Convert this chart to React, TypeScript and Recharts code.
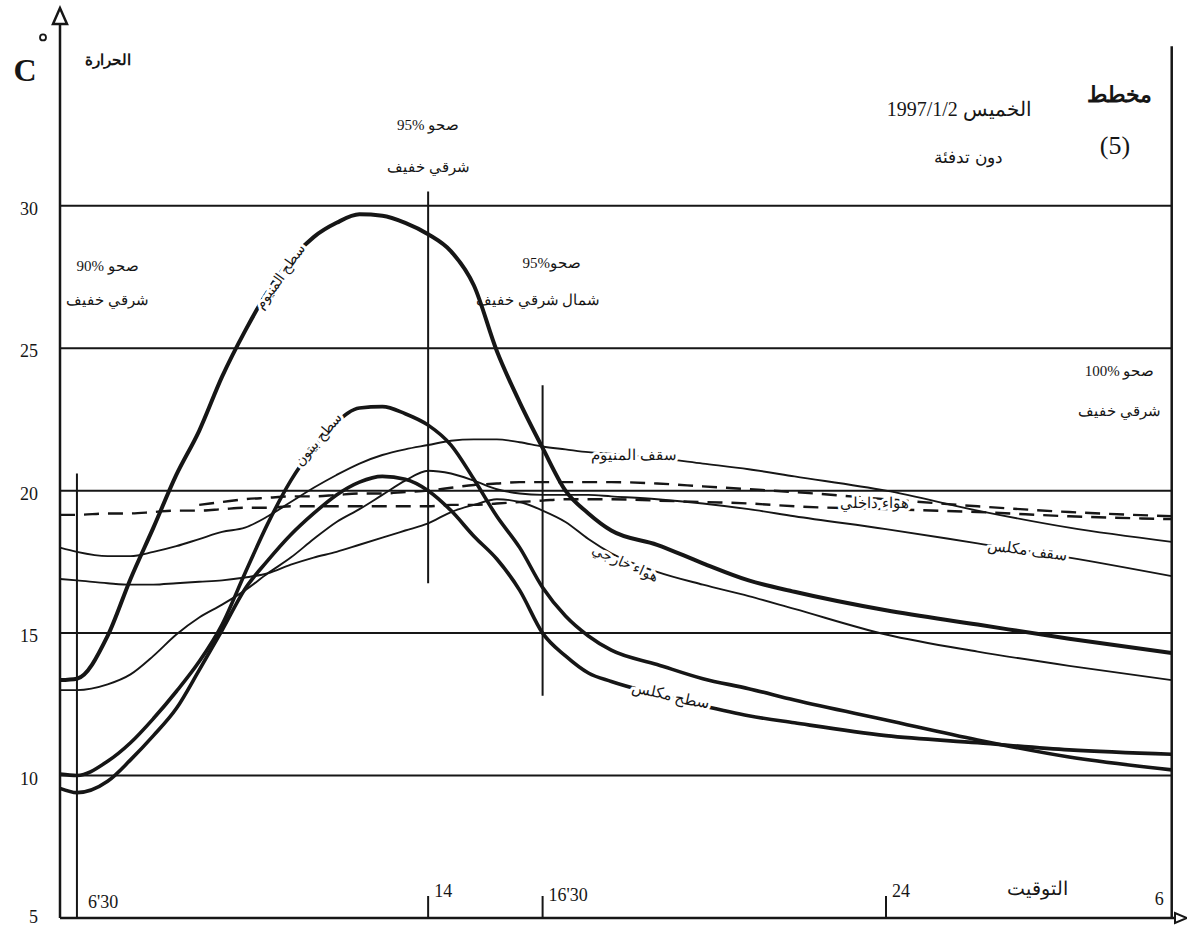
import React from 'react';
import { ComposedChart, Line, XAxis, YAxis, ReferenceLine, ReferenceDot } from 'recharts';

// time of day in hours (30.24 = 6 o'clock next morning)
const hours = [5.96, 6.33, 7, 7.5, 8, 8.5, 9, 9.5, 10, 10.5, 11, 11.5, 12, 12.5, 13, 13.5, 14, 14.5, 15, 15.5, 16, 16.5, 17, 17.5, 18, 19, 20, 21, 22, 24, 26, 28, 30.24];

// temperatures in °C
const aluminiumSurface = [13.35, 13.4, 14.9, 16.9, 18.7, 20.55, 22.1, 24.0, 25.6, 27.0, 28.1, 28.9, 29.4, 29.7, 29.65, 29.4, 29.0, 28.4, 27.2, 24.9, 23.1, 21.5, 20.0, 19.2, 18.6, 18.1, 17.45, 16.85, 16.45, 15.8, 15.3, 14.8, 14.3];
const concreteSurface = [10.05, 10.0, 10.5, 11.15, 12.0, 12.95, 14.0, 15.3, 17.1, 18.85, 20.35, 21.5, 22.4, 22.9, 22.95, 22.7, 22.3, 21.6, 20.4, 19.1, 18.0, 16.6, 15.6, 14.9, 14.4, 13.9, 13.4, 13.05, 12.65, 11.95, 11.25, 10.65, 10.2];
const plasteredSurface = [9.55, 9.4, 9.8, 10.55, 11.4, 12.35, 13.7, 15.1, 16.55, 17.55, 18.45, 19.2, 19.85, 20.3, 20.5, 20.4, 20.0, 19.3, 18.4, 17.6, 16.5, 15.0, 14.2, 13.6, 13.3, 12.85, 12.45, 12.1, 11.85, 11.4, 11.15, 10.9, 10.75];
const aluminiumRoof = [18.0, 17.85, 17.7, 17.7, 17.85, 18.05, 18.3, 18.55, 18.7, 19.1, 19.6, 20.1, 20.55, 20.95, 21.25, 21.45, 21.6, 21.75, 21.8, 21.8, 21.7, 21.55, 21.45, 21.35, 21.3, 21.15, 20.95, 20.75, 20.5, 20.0, 19.3, 18.7, 18.2];
const plasteredRoof = [13.0, 13.0, 13.2, 13.55, 14.2, 14.95, 15.55, 16.0, 16.5, 17.1, 17.65, 18.3, 18.9, 19.35, 19.85, 20.35, 20.7, 20.6, 20.35, 20.05, 19.9, 19.85, 19.85, 19.85, 19.8, 19.7, 19.55, 19.35, 19.1, 18.65, 18.15, 17.65, 17.0];
const outsideAir = [16.9, 16.85, 16.75, 16.7, 16.7, 16.75, 16.8, 16.85, 16.95, 17.1, 17.4, 17.65, 17.85, 18.1, 18.35, 18.6, 18.85, 19.25, 19.5, 19.7, 19.6, 19.3, 18.9, 18.3, 17.8, 17.15, 16.7, 16.3, 15.85, 14.95, 14.35, 13.85, 13.35];
const insideAirA = [19.15, 19.15, 19.2, 19.2, 19.25, 19.3, 19.3, 19.35, 19.4, 19.4, 19.45, 19.45, 19.45, 19.45, 19.45, 19.45, 19.45, 19.5, 19.5, 19.55, 19.6, 19.65, 19.7, 19.7, 19.7, 19.65, 19.6, 19.55, 19.45, 19.35, 19.25, 19.1, 19.0];
const insideAirB = [null, null, null, null, null, null, 19.5, 19.6, 19.7, 19.75, 19.8, 19.8, 19.85, 19.9, 19.9, 19.95, 20.0, 20.1, 20.2, 20.25, 20.3, 20.3, 20.3, 20.3, 20.3, 20.25, 20.15, 20.05, 19.95, 19.7, 19.45, 19.25, 19.1];

const tempTicks = [5, 10, 15, 20, 25, 30];
const timeTicks = [6.33, 14, 16.5, 24, 30.24];
const timeTickLabels = ["6'30", '14', "16'30", '24', '6'];

const rows = hours.map((hour, i) => ({
  hour,
  aluminiumSurface: aluminiumSurface[i],
  concreteSurface: concreteSurface[i],
  plasteredSurface: plasteredSurface[i],
  aluminiumRoof: aluminiumRoof[i],
  plasteredRoof: plasteredRoof[i],
  outsideAir: outsideAir[i],
  insideAirA: insideAirA[i],
  insideAirB: insideAirB[i],
}));

const INK = '#161616';
const SERIF = "'Liberation Serif', 'DejaVu Serif', serif";
const X_MIN = 5.96;
const X_MAX = 30.53;
const Y_MAX = 36.8;
const END_HOUR = 30.24;

// keeps "95%" reading left to right inside the Arabic line
const pct = (n: number) => `\u2066${n}%\u2069`;

type Note = { text: string; hour: number; temp: number; size: number; angle?: number; bold?: boolean };

// free text written on the sheet
const notes: Note[] = [
  { text: `صحو ${pct(95)}`, hour: 14, temp: 32.85, size: 15 },
  { text: 'شرقي خفيف', hour: 14, temp: 31.35, size: 15 },
  { text: `صحو ${pct(90)}`, hour: 7.0, temp: 27.9, size: 15 },
  { text: 'شرقي خفيف', hour: 7.0, temp: 26.7, size: 15 },
  { text: `صحو${pct(95)}`, hour: 16.7, temp: 28.0, size: 15 },
  { text: 'شمال شرقي خفيف', hour: 16.4, temp: 26.7, size: 15 },
  { text: `صحو ${pct(100)}`, hour: 29.1, temp: 24.2, size: 15 },
  { text: 'شرقي خفيف', hour: 29.1, temp: 22.8, size: 15 },
  { text: 'مخطط', hour: 29.1, temp: 33.9, size: 22, bold: true },
  { text: '(5)', hour: 29.0, temp: 32.1, size: 26 },
  { text: 'الخميس 1997/1/2', hour: 25.6, temp: 33.4, size: 20 },
  { text: 'دون تدفئة', hour: 25.8, temp: 31.7, size: 17 },
  { text: 'الحرارة', hour: 7.0, temp: 35.1, size: 15, bold: true },
  { text: 'التوقيت', hour: 27.3, temp: 6.05, size: 19 },
];

// names written along the curves
const curveNotes: Note[] = [
  { text: 'سطح المنيوم', hour: 10.77, temp: 27.5, size: 14, angle: -55 },
  { text: 'سطح بيتون', hour: 11.6, temp: 21.8, size: 14, angle: -50 },
  { text: 'سقف المنيوم', hour: 18.5, temp: 21.25, size: 15 },
  { text: 'هواء داخلي', hour: 23.75, temp: 19.55, size: 15 },
  { text: 'سقف مكلس', hour: 27.1, temp: 17.9, size: 15, angle: 8 },
  { text: 'هواء خارجي', hour: 18.3, temp: 17.45, size: 14, angle: 24 },
  { text: 'سطح مكلس', hour: 19.3, temp: 12.8, size: 15, angle: 12 },
];

const noteShape = (n: Note, halo: boolean) => (p: any) => (
  <text
    x={p.cx}
    y={p.cy}
    textAnchor="middle"
    dominantBaseline="central"
    direction="rtl"
    fontFamily={SERIF}
    fontSize={n.size}
    fontWeight={n.bold ? 700 : 400}
    fill={INK}
    stroke={halo ? '#fff' : 'none'}
    strokeWidth={halo ? 6 : 0}
    style={{ paintOrder: 'stroke' }}
    transform={n.angle ? `rotate(${n.angle} ${p.cx} ${p.cy})` : undefined}
  >
    {n.text}
  </text>
);

function TimeTick(props: any) {
  const { x, y, payload } = props;
  const i = timeTicks.indexOf(payload.value);
  const label = timeTickLabels[i];
  const marked = i >= 1 && i <= 3;
  const style = { fontFamily: SERIF, fontSize: 18, fill: INK };
  if (i === timeTicks.length - 1) {
    return (
      <text x={x - 8} y={y - 13} textAnchor="end" {...style}>
        {label}
      </text>
    );
  }
  return (
    <g>
      {marked && <line x1={x} x2={x} y1={y} y2={y - 22} stroke={INK} strokeWidth={2} />}
      <text x={x + (i === 0 ? 11 : 6)} y={y - (i === 0 ? 10 : i === 2 ? 17 : 21)} textAnchor="start" {...style}>
        {label}
      </text>
    </g>
  );
}

function TempTick(props: any) {
  const { x, y, payload } = props;
  return (
    <text x={x} y={y + (payload.value === 5 ? 5 : 9)} textAnchor="end" fontFamily={SERIF} fontSize={18} fill={INK}>
      {payload.value}
    </text>
  );
}

const upArrow = (p: any) => (
  <polygon
    points={`${p.cx},${p.cy - 4} ${p.cx - 7},${p.cy + 12} ${p.cx + 7},${p.cy + 12}`}
    fill="#fff"
    stroke={INK}
    strokeWidth={2.5}
  />
);

const rightArrow = (p: any) => (
  <polygon
    points={`${p.cx + 2},${p.cy} ${p.cx - 10},${p.cy - 5} ${p.cx - 10},${p.cy + 5}`}
    fill="#fff"
    stroke={INK}
    strokeWidth={2}
  />
);

const unitMark = (p: any) => (
  <g>
    <text x={p.cx - 35} y={p.cy + 11} textAnchor="middle" fontFamily={SERIF} fontSize={32} fontWeight={700} fill={INK}>
      C
    </text>
    <circle cx={p.cx - 17} cy={p.cy - 33} r={3} fill="none" stroke={INK} strokeWidth={1.8} />
  </g>
);

const thick = { stroke: INK, strokeWidth: 3.6, dot: false, activeDot: false, isAnimationActive: false, type: 'monotone' as const };
const thin = { stroke: INK, strokeWidth: 1.9, dot: false, activeDot: false, isAnimationActive: false, type: 'monotone' as const };
const dashed = { ...thin, strokeWidth: 2.4, strokeDasharray: '15 9' };

export default function App() {
  return (
    <div style={{ position: 'absolute', left: 0, top: 0, width: 1187, height: 928, background: '#fff' }}>
      <ComposedChart width={1187} height={928} data={rows} margin={{ top: 12, right: 2, bottom: 9, left: 0 }}>
        <XAxis
          type="number"
          dataKey="hour"
          domain={[X_MIN, X_MAX]}
          ticks={timeTicks}
          interval={0}
          height={1}
          tickLine={false}
          tickSize={0}
          tickMargin={0}
          tick={<TimeTick />}
          axisLine={{ stroke: INK, strokeWidth: 2.5 }}
          allowDataOverflow
        />
        <YAxis
          type="number"
          domain={[5, Y_MAX]}
          ticks={tempTicks}
          interval={0}
          width={60}
          tickLine={false}
          tickSize={0}
          tickMargin={22}
          tick={<TempTick />}
          axisLine={{ stroke: INK, strokeWidth: 2.5 }}
          allowDataOverflow
        />

        {tempTicks.slice(1).map((t) => (
          <ReferenceLine
            key={t}
            segment={[{ x: X_MIN, y: t }, { x: END_HOUR, y: t }]}
            stroke={INK}
            strokeWidth={2}
          />
        ))}
        <ReferenceLine segment={[{ x: END_HOUR, y: 5 }, { x: END_HOUR, y: 35.6 }]} stroke={INK} strokeWidth={2.5} />
        <ReferenceLine segment={[{ x: 6.33, y: 5 }, { x: 6.33, y: 20.6 }]} stroke={INK} strokeWidth={2} />
        <ReferenceLine segment={[{ x: 14, y: 16.75 }, { x: 14, y: 30.5 }]} stroke={INK} strokeWidth={2} />
        <ReferenceLine segment={[{ x: 16.5, y: 12.8 }, { x: 16.5, y: 23.7 }]} stroke={INK} strokeWidth={2} />

        <Line dataKey="insideAirA" {...dashed} />
        <Line dataKey="insideAirB" {...dashed} />
        <Line dataKey="outsideAir" {...thin} />
        <Line dataKey="plasteredRoof" {...thin} />
        <Line dataKey="aluminiumRoof" {...thin} />
        <Line dataKey="plasteredSurface" {...thick} />
        <Line dataKey="concreteSurface" {...thick} />
        <Line dataKey="aluminiumSurface" {...thick} strokeWidth={4} />

        {curveNotes.map((n, i) => (
          <ReferenceDot key={'c' + i} x={n.hour} y={n.temp} r={0} ifOverflow="visible" shape={noteShape(n, true)} />
        ))}
        {notes.map((n, i) => (
          <ReferenceDot key={'n' + i} x={n.hour} y={n.temp} r={0} ifOverflow="visible" shape={noteShape(n, false)} />
        ))}
        <ReferenceDot x={X_MIN} y={Y_MAX} r={0} ifOverflow="visible" shape={upArrow} />
        <ReferenceDot x={X_MAX} y={5} r={0} ifOverflow="visible" shape={rightArrow} />
        <ReferenceDot x={X_MIN} y={34.75} r={0} ifOverflow="visible" shape={unitMark} />
      </ComposedChart>
    </div>
  );
}
